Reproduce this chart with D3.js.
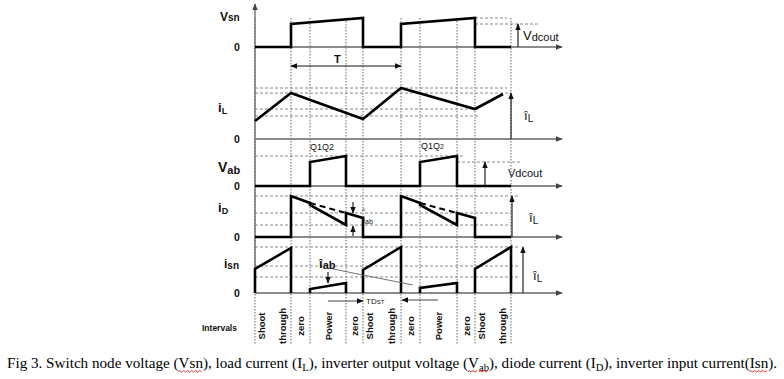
<!DOCTYPE html>
<html><head><meta charset="utf-8">
<script src="https://cdn.jsdelivr.net/npm/d3@7"></script>
<style>body{margin:0;background:#fff}svg{display:block}</style>
</head><body><svg id="c" width="784" height="379"></svg>
<script>
// ================= DATA =================
// interval boundaries (time units)
const boundaries = [0, 3.6, 5.5, 9.1, 10.8, 14.6, 16.5, 20.2, 22.0, 25.6];
const intervalNames = [["Shoot","through"],["zero"],["Power"],["zero"],["Shoot","through"],["zero"],["Power"],["zero"],["Shoot","through"]];

// switch node voltage (per unit of Vdcout)
const vsnT = [0, 3.6, 3.6, 10.8, 10.8, 14.6, 14.6, 22.0, 22.0, 25.6];
const vsnV = [0, 0, 1, 1.26, 0, 0, 1, 1.26, 0, 0];

// load current
const ilT = [0, 3.6, 10.8, 14.6, 22.0, 24.8];
const ilV = [1.8, 4.6, 2.0, 5.1, 3.0, 4.5];

// inverter output voltage (per unit)
const vabT = [0, 5.5, 5.5, 9.1, 9.1, 16.5, 16.5, 20.2, 20.2, 25.6];
const vabV = [0, 0, 1, 1.25, 0, 0, 1, 1.25, 0, 0];

// diode current
const idT = [0, 3.6, 3.6, 5.5, 5.5, 9.1, 9.1, 10.8, 10.8, 14.6, 14.6, 16.5, 16.5, 20.2, 20.2, 22.0, 22.0, 25.6];
const idV = [0, 0, 4.1, 3.4, 3.2, 1.2, 2.4, 1.9, 0, 0, 4.1, 3.4, 3.2, 1.2, 2.4, 1.9, 0, 0];
const idDashT = [[5.5, 9.1], [16.5, 20.2]];
const idDashV = [[3.4, 2.4], [3.4, 2.4]];

// inverter input current pulses
const isnPulseT = [[0,0,3.6,3.6],[5.5,5.5,9.1,9.1],[10.8,10.8,14.6,14.6],[16.5,16.5,20.2,20.2],[22.0,22.0,25.6,25.6]];
const isnPulseV = [[0,2.4,4.5,0],[0,0.4,1.0,0],[0,2.3,4.6,0],[0,0.5,1.0,0],[0,2.4,4.6,0]];

// dashed reference levels
const vsnRefs = [1, 1.26];
const ilRefs = [5.1, 4.6, 3.0, 2.3];
const vabRefs = [1.25, 1];
const idRefs = [4.1, 2.4, 1.2];
const isnRefs = [4.6, 2.7, 1.6];

const captionRuns = [
  {t:"Fig 3. Switch node voltage ("},
  {t:"Vsn", sq:true},
  {t:"), load current (I"},
  {t:"L", sub:true},
  {t:"), inverter output voltage ("},
  {t:"V", sq:true},
  {t:"ab", sub:true, sq:true},
  {t:"), diode current (I"},
  {t:"D", sub:true},
  {t:"), inverter input current("},
  {t:"Isn", sq:true},
  {t:")."}
];

// ================= LAYOUT =================
const svg = d3.select("#c");
const x = d3.scaleLinear().domain([0, 30.7]).range([255, 562]);
const yVsn = d3.scaleLinear().domain([0, 1]).range([47, 24]);
const yIl  = d3.scaleLinear().domain([0, 5]).range([139, 89]);
const yVab = d3.scaleLinear().domain([0, 1]).range([186, 162]);
const yId  = d3.scaleLinear().domain([0, 5]).range([237, 187]);
const yIsn = d3.scaleLinear().domain([0, 5]).range([293, 243]);

const SANS = "'Liberation Sans', Arial, sans-serif";
const GRID = "#8a8a8a";
const AX = "#666";

const defs = svg.append("defs");
function marker(id, color){
  defs.append("marker").attr("id", id).attr("viewBox","0 0 10 10").attr("refX",9).attr("refY",5)
    .attr("markerWidth",7).attr("markerHeight",7).attr("markerUnits","userSpaceOnUse").attr("orient","auto-start-reverse")
    .append("path").attr("d","M0,1 L10,5 L0,9 z").attr("fill", color);
}
marker("ah", "#111");
marker("ahg", "#444");

const line = (ys) => d3.line().x(d => x(d[0])).y(d => ys(d[1]));
const zip = (a, b) => a.map((v, i) => [v, b[i]]);

// vertical dotted boundaries
svg.append("g").selectAll("line").data(boundaries).join("line")
  .attr("x1", d => x(d)).attr("x2", d => x(d)).attr("y1", 18).attr("y2", 345)
  .attr("stroke", GRID).attr("stroke-width", 1.3).attr("stroke-dasharray", "1.5,1.5");

// dashed reference levels
function refs(ys, levels, x1s, x2s){
  svg.append("g").selectAll("line").data(levels).join("line")
    .attr("x1", (d,i) => x1s[i]).attr("x2", (d,i) => x2s[i])
    .attr("y1", d => ys(d)).attr("y2", d => ys(d))
    .attr("stroke", GRID).attr("stroke-width", 1.1).attr("stroke-dasharray", "3,2");
}
refs(yVsn, vsnRefs, [x(22), x(22)], [x(28.5), x(25.2)]);
refs(yIl, ilRefs, [255,255,255,255], [x(25.2), x(25.6), x(22.5), x(22.5)]);
refs(yVab, vabRefs, [255, x(20.2)], [x(21), x(26.5)]);
refs(yId, idRefs, [255,255,255], [x(26.5), x(25.6), x(25.6)]);
refs(yIsn, isnRefs, [255,255,255], [x(26.5), x(26.5), x(26.5)]);

// axes
svg.append("line").attr("x1", 255).attr("x2", 255).attr("y1", yIsn(0)).attr("y2", 4)
  .attr("stroke", AX).attr("stroke-width", 1.3).attr("marker-end", "url(#ahg)");
[yVsn, yIl, yVab, yId, yIsn].forEach(ys => {
  svg.append("line").attr("x1", 255).attr("x2", 562).attr("y1", ys(0)).attr("y2", ys(0))
    .attr("stroke", AX).attr("stroke-width", 1.3).attr("marker-end", "url(#ahg)");
});

// waveforms
const W = 2.6;
svg.append("path").attr("d", line(yVsn)(zip(vsnT, vsnV))).attr("fill","none").attr("stroke","#000").attr("stroke-width",W);
svg.append("path").attr("d", line(yIl)(zip(ilT, ilV))).attr("fill","none").attr("stroke","#000").attr("stroke-width",W);
svg.append("path").attr("d", line(yVab)(zip(vabT, vabV))).attr("fill","none").attr("stroke","#000").attr("stroke-width",W);
svg.append("path").attr("d", line(yId)(zip(idT, idV))).attr("fill","none").attr("stroke","#000").attr("stroke-width",W);
idDashT.forEach((tt, i) => {
  svg.append("path").attr("d", line(yId)(zip(tt, idDashV[i]))).attr("fill","none")
    .attr("stroke","#000").attr("stroke-width",2).attr("stroke-dasharray","6,4");
});
isnPulseT.forEach((tt, i) => {
  svg.append("path").attr("d", line(yIsn)(zip(tt, isnPulseV[i]))).attr("fill","none")
    .attr("stroke","#000").attr("stroke-width",W).attr("stroke-linejoin","miter");
});

// annotation arrows
function arrow(x1, y1, x2, y2, opts = {}){
  const l = svg.append("line").attr("x1",x1).attr("y1",y1).attr("x2",x2).attr("y2",y2)
    .attr("stroke", opts.color || "#111").attr("stroke-width", opts.w || 1.1)
    .attr("marker-end","url(#ah)");
  if (opts.both) l.attr("marker-start","url(#ah)");
}
arrow(x(26.3), yVsn(0), x(26.3), yVsn(1));                 // Vdcout
arrow(x(3.6), 66, x(14.6), 66, {both:true});               // T
arrow(x(25.6), yIl(0), x(25.6), yIl(4.6));                 // iL hat
arrow(x(23.0), yVab(0), x(23.0), yVab(1));                 // Vab Vdcout
arrow(x(25.7), yId(0), x(25.7), yId(4.1));                 // iD iL hat
arrow(x(9.8), yId(3.5), x(9.8), yId(2.4));                 // iab down
arrow(x(9.8), yId(0.1), x(9.8), yId(1.1));                 // iab up
arrow(x(26.8), yIsn(0), x(26.8), yIsn(4.6));               // isn iL hat
arrow(x(7.3), yIsn(2.1), x(7.3), yIsn(1.0));               // iab hat
arrow(x(7.3), 301, x(10.8), 301, {color:"#444"});          // TDst right
arrow(x(18.3), 300, x(14.7), 300, {color:"#444"});         // TDst left
svg.append("line").attr("x1", x(7.8)).attr("y1", yIsn(2.4)).attr("x2", x(15.8)).attr("y2", yIsn(0.8))
  .attr("stroke", "#666").attr("stroke-width", 0.9);

// text helpers
function label(px, py, parts, opts = {}){
  const t = svg.append("text").attr("x", px).attr("y", py)
    .attr("font-family", SANS).attr("font-weight", opts.weight || "bold")
    .attr("font-size", opts.size || 12).attr("fill", "#111")
    .attr("text-anchor", opts.anchor || "start");
  parts.forEach(p => {
    const ts = t.append("tspan").text(p.t);
    if (p.size) ts.attr("font-size", p.size);
    if (p.dy) ts.attr("dy", p.dy);
  });
  return t;
}
// left labels
label(220, 21, [{t:"V", size:12},{t:"sn", size:10}]);
label(234, 51, [{t:"0"}], {size:10.5});
label(218, 112, [{t:"i", size:13},{t:"L", size:9, dy:2}]);
label(234, 143, [{t:"0"}], {size:10.5});
label(218, 172, [{t:"V", size:14},{t:"ab", size:11, dy:2}]);
label(234, 190, [{t:"0"}], {size:10.5});
label(218, 212, [{t:"i", size:13},{t:"D", size:9, dy:2}]);
label(234, 241, [{t:"0"}], {size:10.5});
label(224, 268, [{t:"i", size:12},{t:"sn", size:10, dy:1}]);
label(234, 297, [{t:"0"}], {size:10.5});
label(202, 331, [{t:"Intervals"}], {size:8.5});

// right labels
label(523, 40, [{t:"V", size:13},{t:"dcout", size:11, dy:1}], {weight:"normal"});
label(524, 120, [{t:"î", size:13},{t:"L", size:10, dy:2}], {weight:"normal"});
label(508, 177, [{t:"Vdcout", size:11}], {weight:"normal"});
label(529, 222, [{t:"î", size:13},{t:"L", size:10, dy:2}], {weight:"normal"});
label(533, 280, [{t:"î", size:13},{t:"L", size:10, dy:2}], {weight:"normal"});
label(x(5.5), 150, [{t:"Q1Q2", size:9}], {weight:"normal"});
label(x(16.6), 149, [{t:"Q1Q", size:9},{t:"2", size:7}], {weight:"normal"});
label(x(7.9), 63, [{t:"T", size:11}]);
label(x(11.1), 304, [{t:"TD", size:8},{t:"ST", size:6}], {weight:"normal"});
label(x(6.4), 268, [{t:"î", size:13},{t:"ab", size:11, dy:1}]);
label(x(10.8), 223, [{t:"i", size:9},{t:"ab", size:7, dy:1}], {weight:"normal"});
label(x(10.7), 213, [{t:"^", size:7}], {weight:"normal"});

// interval labels (rotated)
intervalNames.forEach((words, i) => {
  const a = boundaries[i];
  const b = i + 1 < boundaries.length ? boundaries[i + 1] : boundaries[i] + 3.6;
  const fr = words.length === 2 ? [0.17, 0.76] : [0.5];
  words.forEach((w, j) => {
    const cx = x(a + (b - a) * fr[j]);
    svg.append("text").attr("transform", `translate(${cx},326) rotate(-90)`)
      .attr("text-anchor","middle").attr("dominant-baseline","central")
      .attr("font-family", SANS).attr("font-weight","bold").attr("font-size", 9.5).attr("fill","#111")
      .text(w);
  });
});

// caption
function drawCaption(fs){
  const g = svg.append("g").attr("class","cap");
  let cx = 7; const base = 368;
  captionRuns.forEach(r => {
    const t = g.append("text").attr("x", cx).attr("y", r.sub ? base + fs*0.22 : base)
      .attr("font-family","'Liberation Serif','Times New Roman',serif")
      .attr("font-size", r.sub ? fs*0.7 : fs).attr("fill","#000").text(r.t);
    const w = t.node().getComputedTextLength();
    if (r.sq){
      let p = `M${cx},${base+4}`;
      for (let s = cx; s < cx + w - 1; s += 2) p += ` L${s+1},${base+(((s-cx)/2)%2===0?2.5:4)}`;
      g.append("path").attr("d", p).attr("fill","none").attr("stroke","#e02020").attr("stroke-width",0.9);
    }
    cx += w;
  });
  return cx - 7;
}
let wtot = drawCaption(14);
svg.selectAll("g.cap").remove();
drawCaption(14 * 771 / wtot);
</script></body></html>
